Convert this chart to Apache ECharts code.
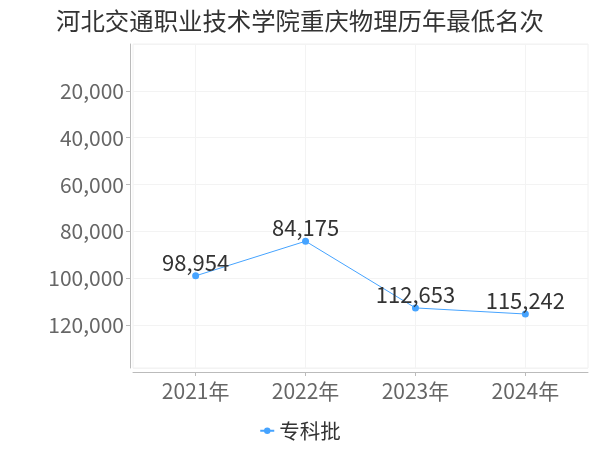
<!DOCTYPE html>
<html>
<head>
<meta charset="utf-8">
<script src="https://cdn.jsdelivr.net/npm/echarts@6/dist/echarts.min.js"></script>
<style>html,body{margin:0;padding:0;background:#fff}#c{width:600px;height:450px}</style>
</head>
<body>
<div id="c"></div>
<script>
const titleText = '河北交通职业技术学院重庆物理历年最低名次';
const seriesName = '专科批';
const categories = ['2021年', '2022年', '2023年', '2024年'];
const values = [98954, 84175, 112653, 115242];
const yTicks = [20000, 40000, 60000, 80000, 100000, 120000];

const FONT = '"Noto Sans CJK SC", "Noto Sans", sans-serif';
const chart = echarts.init(document.getElementById('c'));
const idx = categories.map((c, i) => i);
chart.setOption({
  animation: false,
  title: {
    text: titleText, left: 'center', top: 4,
    textStyle: { fontFamily: FONT, fontSize: 24.4, fontWeight: 'normal', color: '#333' }
  },
  legend: {
    bottom: 4, left: 'center',
    itemWidth: 14, itemHeight: 8,
    textStyle: { fontFamily: FONT, fontSize: 20.5, color: '#333' },
    data: [seriesName]
  },
  grid: {
    left: 133, right: 12, top: 44, bottom: 82,
    show: true, borderColor: '#f0f0f0', borderWidth: 1
  },
  xAxis: {
    type: 'value', min: -0.57, max: 3.57, position: 'bottom',
    offset: 4,
    axisLine: { show: true, onZero: false, lineStyle: { color: '#bbb' } },
    axisTick: { show: true, length: 4, lineStyle: { color: '#bbb' }, customValues: idx },
    axisLabel: { customValues: idx, formatter: v => categories[Math.round(v)] || '', fontFamily: FONT, fontSize: 21, color: '#666', margin: 9 },
    splitLine: { show: true, lineStyle: { color: '#f3f3f3' } }
  },
  yAxis: {
    type: 'value', inverse: true, min: 0, max: v => v.max * 1.2, position: 'left',
    interval: 20000, offset: 3,
    axisLine: { show: true, onZero: false, lineStyle: { color: '#bbb' } },
    axisTick: { show: true, length: 4, lineStyle: { color: '#bbb' } },
    axisLabel: {
      showMinLabel: false, showMaxLabel: false,
      formatter: v => yTicks.includes(v) ? v.toLocaleString('en-US') : '',
      fontFamily: FONT, fontSize: 21, color: '#666', margin: 6
    },
    splitLine: { show: true, lineStyle: { color: '#f3f3f3' } }
  },
  series: [{
    name: seriesName, type: 'line',
    data: values.map((v, i) => [i, v]),
    symbol: 'circle', symbolSize: 7,
    itemStyle: { color: '#45a3ff', borderColor: '#45a3ff', borderWidth: 0 },
    lineStyle: { color: '#45a3ff', width: 1 },
    label: {
      show: true, position: 'top', distance: 0, offset: [0, 1],
      formatter: p => p.value[1].toLocaleString('en-US'),
      fontFamily: FONT, fontSize: 22, color: '#333'
    }
  }]
});
</script>
</body>
</html>
